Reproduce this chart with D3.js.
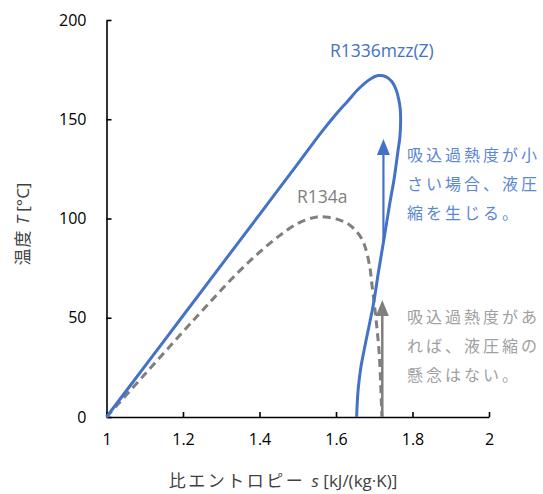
<!DOCTYPE html>
<html>
<head>
<meta charset="utf-8">
<script src="https://cdn.jsdelivr.net/npm/d3@7"></script>
<style>
  html, body { margin: 0; padding: 0; background: #fff; }
  svg { display: block; }
  text { font-family: "Open Sans", "Noto Sans CJK JP", sans-serif; }
  .jp { font-family: "Noto Sans CJK JP", "Open Sans", sans-serif; }
</style>
</head>
<body>
<svg id="chart" width="543" height="494"></svg>
<script>
// Saturation dome of R1336mzz(Z): s [kJ/(kg·K)], T [°C]
const r1336S = [1.0, 1.1, 1.2, 1.3, 1.4, 1.5, 1.56, 1.6, 1.63, 1.66, 1.69, 1.71, 1.73, 1.746, 1.757, 1.764, 1.768, 1.769, 1.767, 1.762, 1.752, 1.741, 1.724, 1.711, 1.698, 1.678, 1.665, 1.658, 1.655, 1.654];
const r1336T = [0, 25.5, 51, 76.5, 102, 127.5, 143, 152.5, 159, 165.5, 170.3, 172, 171.5, 169, 165, 160, 155, 149.6, 141, 134, 120, 108, 88, 73, 57, 38, 25, 14, 5, 0];

// Saturation dome of R134a
const r134aS = [1.0, 1.1, 1.2, 1.25, 1.3, 1.35, 1.4, 1.45, 1.5, 1.55, 1.58, 1.61, 1.63, 1.65, 1.665, 1.676, 1.688, 1.695, 1.702, 1.708, 1.713, 1.717, 1.719, 1.72];
const r134aT = [0, 21.5, 43, 53.5, 64, 74, 83, 91, 97.5, 100.8, 100.6, 99.2, 97.5, 94.2, 90.5, 85.8, 76, 65, 53.9, 43, 32, 16, 5, 0];

// Compression-direction arrows: [s, T start, T end]
const arrowBlue = [1.724, 88, 140];
const arrowGray = [1.721, 0, 59];

const xTicks = [1, 1.2, 1.4, 1.6, 1.8, 2];
const yTicks = [0, 50, 100, 150, 200];

const noteBlue = ["吸込過熱度が小", "さい場合、液圧", "縮を生じる。"];
const noteGray = ["吸込過熱度があ", "れば、液圧縮の", "懸念はない。"];

const BLUE = "#4472C4";
const GRAY = "#7F7F7F";

const svg = d3.select("#chart");
const x = d3.scaleLinear().domain([1, 2]).range([106.5, 489]);
const y = d3.scaleLinear().domain([0, 200]).range([417, 20]);

// Axes with inward ticks
const xAxis = svg.append("g").attr("transform", `translate(0,${y(0)})`)
  .call(d3.axisBottom(x).tickValues(xTicks).tickSize(-5).tickSizeOuter(0).tickPadding(17)
    .tickFormat(d => String(d)));
const yAxis = svg.append("g").attr("transform", `translate(${x(1)},0)`)
  .call(d3.axisLeft(y).tickValues(yTicks).tickSize(-5).tickSizeOuter(0).tickPadding(20));
[xAxis, yAxis].forEach(a => {
  a.selectAll(".domain").attr("stroke", "#000").attr("stroke-width", 1.6);
  a.selectAll(".tick line").attr("stroke", "#000").attr("stroke-width", 1.6);
  a.selectAll(".tick text").attr("fill", "#000").style("font-size", "16px")
    .style("font-family", "'Open Sans', sans-serif");
});
xAxis.selectAll(".tick text").attr("dy", "0.71em");

const line = d3.line().x(d => x(d[0])).y(d => y(d[1])).curve(d3.curveCatmullRom.alpha(0.5));

svg.append("path")
  .datum(r134aS.map((s, i) => [s, r134aT[i]]))
  .attr("d", line).attr("fill", "none").attr("stroke", GRAY)
  .attr("stroke-width", 3).attr("stroke-dasharray", "8,5");

svg.append("path")
  .datum(r1336S.map((s, i) => [s, r1336T[i]]))
  .attr("d", line).attr("fill", "none").attr("stroke", BLUE)
  .attr("stroke-width", 3).attr("stroke-linejoin", "round");

function drawArrow(a, color, w) {
  const [s, t0, t1] = a;
  const px = x(s), yTip = y(t1), headH = 16, headW = 6.5;
  svg.append("line").attr("x1", px).attr("x2", px)
    .attr("y1", y(t0)).attr("y2", yTip + headH - 1)
    .attr("stroke", color).attr("stroke-width", w);
  svg.append("path")
    .attr("d", `M${px},${yTip} L${px - headW},${yTip + headH} L${px + headW},${yTip + headH} Z`)
    .attr("fill", color);
}
drawArrow(arrowBlue, BLUE, 2.2);
drawArrow(arrowGray, GRAY, 2.5);

// Series labels
svg.append("text").attr("x", 330).attr("y", 57).attr("fill", BLUE)
  .style("font-size", "17.5px").text("R1336mzz(Z)");
svg.append("text").attr("x", 297).attr("y", 203).attr("fill", GRAY)
  .style("font-size", "17.5px").text("R134a");

function note(lines, x0, y0, color) {
  const t = svg.append("text").attr("class", "jp").attr("fill", color)
    .style("font-size", "16px").style("letter-spacing", "3px");
  lines.forEach((l, i) => t.append("tspan").attr("x", x0).attr("y", y0 + i * 29).text(l));
}
note(noteBlue, 407, 161, "#5B87D3");
note(noteGray, 407, 323, "#A0A0A0");

// Axis titles
const yt = svg.append("text").attr("class", "jp")
  .attr("transform", `translate(29,224) rotate(-90)`)
  .attr("text-anchor", "middle").attr("fill", "#404040").style("font-size", "17px");
yt.append("tspan").style("letter-spacing", "1px").text("温度 ");
yt.append("tspan").style("font-style", "italic").style("font-family", "'Open Sans', sans-serif").text("T");
yt.append("tspan").style("font-family", "'Open Sans', sans-serif").text(" [°C]");

const xt = svg.append("text").attr("class", "jp")
  .attr("x", 283).attr("y", 487)
  .attr("text-anchor", "middle").attr("fill", "#404040").style("font-size", "17px");
xt.append("tspan").style("letter-spacing", "2.5px").text("比エントロピー ");
xt.append("tspan").style("font-style", "italic").style("font-family", "'Open Sans', sans-serif").text("s");
xt.append("tspan").style("font-family", "'Open Sans', sans-serif").text(" [kJ/(kg·K)]");
</script>
</body>
</html>
